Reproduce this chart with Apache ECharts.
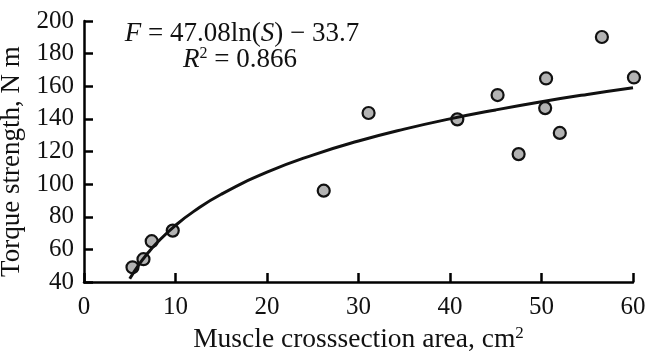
<!DOCTYPE html>
<html>
<head>
<meta charset="utf-8">
<script src="https://cdn.jsdelivr.net/npm/echarts@6/dist/echarts.min.js"></script>
<style>
  html, body { margin: 0; padding: 0; background: #fff; }
  #chart { width: 649px; height: 351px; }
</style>
</head>
<body>
<div id="chart"></div>
<script>
// measured points: muscle cross-section area (cm^2) vs torque (N m)
const areaValues = [5.3, 6.5, 7.4, 9.7, 26.2, 31.1, 40.8, 45.2, 47.5, 50.5, 50.4, 52.0, 56.6, 60.1]
const torqueValues = [49, 54, 65, 71.5, 96, 143.6, 139.7, 154.6, 118.4, 164.8, 146.6, 131.4, 190.2, 165.4]

// fitted curve
const fitArea = [5, 6, 7, 8, 10, 12, 15, 20, 25, 30, 35, 40, 45, 50, 55, 60]
const fitTorque = [42, 50.7, 57.9, 64.2, 74.7, 83.3, 93.8, 107.3, 117.8, 126.4, 133.7, 140, 145.5, 150.5, 155, 159.1]

const yTicks = [40, 60, 80, 100, 120, 140, 160, 180, 200]
const xTicks = [0, 10, 20, 30, 40, 50, 60]

const font = '"Liberation Serif", "DejaVu Serif", serif'

const chart = echarts.init(document.getElementById('chart'))

const option = {
  backgroundColor: '#fff',
  animation: false,
  grid: { left: 84, right: 16, top: 21, bottom: 69, containLabel: false, outerBoundsMode: 'none' },
  xAxis: {
    type: 'value',
    min: xTicks[0],
    max: xTicks[xTicks.length - 1],
    interval: 10,
    name: '{a|Muscle crosssection area, cm}{s|2}',
    nameLocation: 'middle',
    nameGap: 43,
    nameTextStyle: {
      rich: {
        a: { fontFamily: font, fontSize: 27.5, color: '#111' },
        s: { fontFamily: font, fontSize: 17, color: '#111', verticalAlign: 'top', padding: [0, 0, 12, 0] }
      }
    },
    axisLine: { show: true, onZero: false, lineStyle: { color: '#000', width: 2.5 } },
    axisTick: { show: true, inside: true, length: 9, lineStyle: { color: '#000', width: 2.5 } },
    axisLabel: { fontFamily: font, fontSize: 25, color: '#111', margin: 13 },
    splitLine: { show: false }
  },
  yAxis: {
    type: 'value',
    min: yTicks[0],
    max: yTicks[yTicks.length - 1],
    interval: 20,
    // trailing spaces push the rotated title a little lower, as in the source
    name: 'Torque strength, N m   ',
    nameLocation: 'middle',
    nameGap: 48,
    nameTextStyle: { fontFamily: font, fontSize: 27, color: '#111' },
    axisLine: { show: true, onZero: false, lineStyle: { color: '#000', width: 2.5 } },
    axisTick: { show: true, inside: true, length: 9, lineStyle: { color: '#000', width: 2.5 } },
    axisLabel: { fontFamily: font, fontSize: 25, color: '#111', margin: 10 },
    splitLine: { show: false }
  },
  graphic: [
    {
      type: 'text',
      x: 242,
      y: 20,
      style: {
        text: '{i|F} = 47.08ln({i|S}) − 33.7',
        align: 'center',
        font: '27px ' + font,
        fill: '#111',
        rich: {
          i: { fontFamily: font, fontSize: 27, fontStyle: 'italic', fill: '#111' }
        }
      }
    },
    {
      type: 'text',
      x: 240,
      y: 46,
      style: {
        text: '{i|R}{s|2} = 0.866',
        align: 'center',
        font: '27px ' + font,
        fill: '#111',
        rich: {
          i: { fontFamily: font, fontSize: 27, fontStyle: 'italic', fill: '#111' },
          s: { fontFamily: font, fontSize: 16, fill: '#111', verticalAlign: 'top', padding: [0, 0, 12, 0] }
        }
      }
    }
  ],
  series: [
    {
      type: 'scatter',
      data: areaValues.map((a, i) => [a, torqueValues[i]]),
      clip: false,
      symbol: 'circle',
      symbolSize: 12,
      itemStyle: { color: '#b3b3b3', borderColor: '#111', borderWidth: 2.2, opacity: 1 },
      z: 2
    },
    {
      type: 'line',
      data: fitArea.map((a, i) => [a, fitTorque[i]]),
      smooth: true,
      showSymbol: false,
      lineStyle: { color: '#111', width: 3 },
      z: 3
    }
  ]
}

chart.setOption(option)
</script>
</body>
</html>
